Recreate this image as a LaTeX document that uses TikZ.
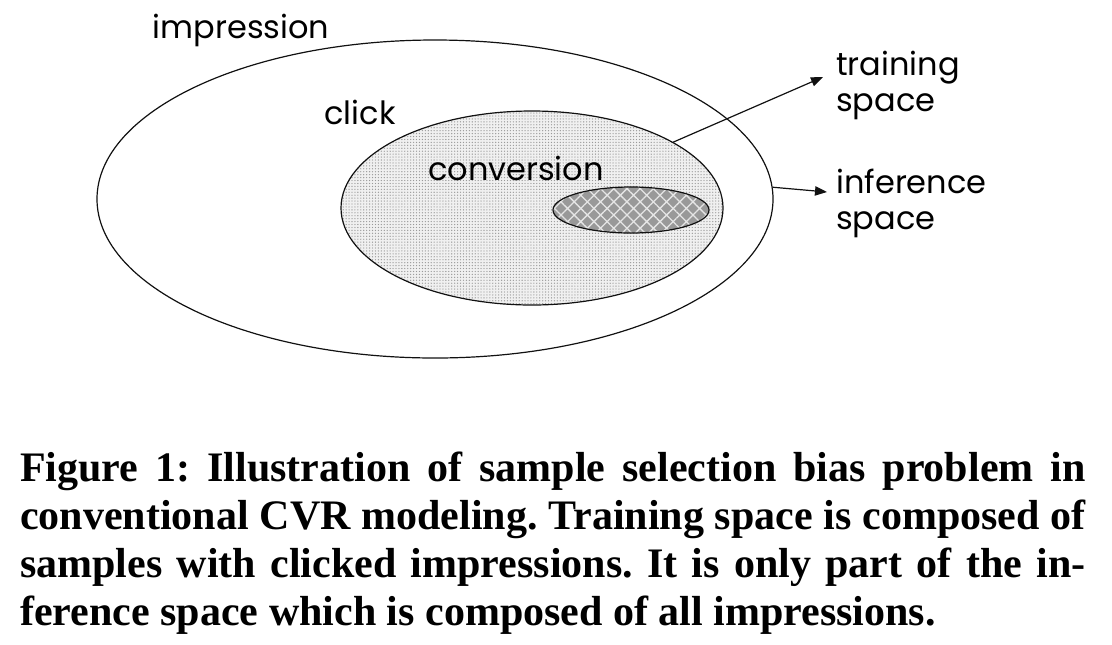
\documentclass[tikz,border=0pt]{standalone}
\usepackage{fontspec}
\usepackage{tikz}
\usetikzlibrary{shapes.geometric}
\usetikzlibrary{arrows.meta}
\usetikzlibrary{patterns.meta}
\usetikzlibrary{positioning}
\newfontfamily\labelfont{Poppins}
\newfontfamily\capfont{Liberation Serif}
\definecolor{myblack}{HTML}{111111}
\tikzstyle{space} = [ellipse, draw=myblack, line width=0.9pt, inner sep=0pt]
\tikzstyle{lbl} = [inner sep=0pt, align=left, font={\labelfont\fontsize{24}{27}\selectfont}]
\tikzstyle{ln} = [draw=myblack, line width=0.9pt, -{Triangle[length=9pt, width=7pt]}]

\begin{document}
\frenchspacing
\begin{tikzpicture}[x=0.75pt, y=-0.75pt]
    \useasboundingbox (0,0) rectangle (1112,644);

    % Spaces
    \node[space, minimum width=507pt, minimum height=238.5pt] (impr) at (435,199) {};
    \node[space, minimum width=286.5pt, minimum height=145.5pt,
          preaction={fill=gray!12},
          pattern={Dots[distance=2.2pt, radius=0.5pt]}, pattern color=gray!80] (click) at (532,208) {};
    \node[space, minimum width=117pt, minimum height=34.5pt,
          preaction={fill=gray!80},
          pattern={Hatch[distance=7pt, angle=45, line width=1pt]}, pattern color=white!80!gray] (conv) at (631,210) {};

    % Labels
    \node[lbl] (imprlbl) at (241,30) {impression};
    \node[lbl] (clicklbl) at (360,112) {click};
    \node[lbl] (convlbl) at (516,168) {conversion};
    \node[lbl, anchor=west] (train) at (836,85) {training\\space};
    \node[lbl, anchor=west] (infer) at (836,203) {inference\\space};
    \coordinate (trainTip) at (823,77);
    \coordinate (inferTip) at (827,192);

    % Paths
    \draw[ln] (click.25) -- (trainTip);
    \draw[ln] (impr.2) -- (inferTip);

    % Caption
    \node[inner sep=0pt, anchor=north west, text width=799pt, align=justify,
          font={\capfont\bfseries\fontsize{31.5}{36}\selectfont}] (caption) at (20,452)
      {Figure 1: Illustration of sample selection bias problem in\linebreak
       conventional CVR modeling. Training space is composed of\linebreak
       samples with clicked impressions. It is only part of the in-\linebreak
       ference space which is composed of all impressions.};
\end{tikzpicture}
\end{document}
